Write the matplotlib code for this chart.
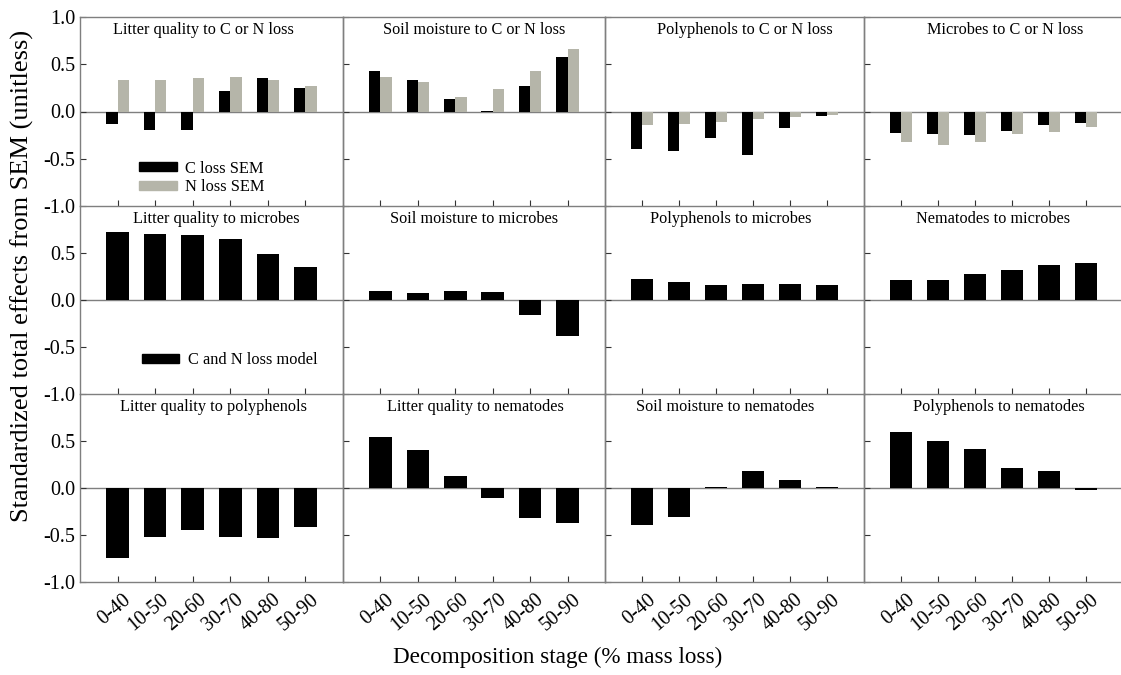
import matplotlib.pyplot as plt
from matplotlib.patches import Patch
from matplotlib.transforms import ScaledTranslation
import numpy as np

plt.rcParams['font.family'] = ['Liberation Serif', 'DejaVu Serif']

stages = ['0-40', '10-50', '20-60', '30-70', '40-80', '50-90']

## top row: C loss SEM vs N loss SEM
lq_c = [-0.13, -0.20, -0.20, 0.22, 0.35, 0.25]
lq_n = [0.33, 0.33, 0.35, 0.37, 0.33, 0.27]
sm_c = [0.43, 0.33, 0.13, 0.01, 0.27, 0.58]
sm_n = [0.36, 0.31, 0.15, 0.24, 0.43, 0.66]
pp_c = [-0.40, -0.42, -0.28, -0.46, -0.17, -0.05]
pp_n = [-0.14, -0.13, -0.11, -0.08, -0.06, -0.04]
mic_c = [-0.23, -0.24, -0.25, -0.21, -0.14, -0.12]
mic_n = [-0.32, -0.35, -0.32, -0.24, -0.22, -0.16]

## C and N loss model
lq_mic = [0.72, 0.70, 0.69, 0.65, 0.49, 0.35]
sm_mic = [0.10, 0.07, 0.10, 0.09, -0.155, -0.38]
pp_mic = [0.22, 0.19, 0.16, 0.17, 0.17, 0.16]
nem_mic = [0.21, 0.21, 0.28, 0.32, 0.37, 0.39]
lq_pp = [-0.74, -0.52, -0.45, -0.52, -0.53, -0.42]
lq_nem = [0.54, 0.40, 0.13, -0.11, -0.32, -0.37]
sm_nem = [-0.39, -0.31, 0.01, 0.18, 0.08, 0.01]
pp_nem = [0.60, 0.50, 0.42, 0.21, 0.18, -0.02]

top_titles = ['Litter quality to C or N loss', 'Soil moisture to C or N loss',
              'Polyphenols to C or N loss', 'Microbes to C or N loss']
top_c = [lq_c, sm_c, pp_c, mic_c]
top_n = [lq_n, sm_n, pp_n, mic_n]

model_titles = [['Litter quality to microbes', 'Soil moisture to microbes',
                 'Polyphenols to microbes', 'Nematodes to microbes'],
                ['Litter quality to polyphenols', 'Litter quality to nematodes',
                 'Soil moisture to nematodes', 'Polyphenols to nematodes']]
model_vals = [[lq_mic, sm_mic, pp_mic, nem_mic],
              [lq_pp, lq_nem, sm_nem, pp_nem]]

# where each panel title sits (axes fraction), as in the original figure
title_x = [[0.468, 0.502, 0.539, 0.544],
           [0.517, 0.500, 0.486, 0.498],
           [0.506, 0.504, 0.465, 0.519]]

black = '#000000'
grey = '#b5b5a9'
line_c = '#7f7f7f'

W, H = 1121, 675
fig = plt.figure(figsize=(W / 100, H / 100), dpi=100)

col_left = [80, 343, 605, 864]
col_right = [343, 605, 864, 1123]
row_top = [17, 206, 394]
row_bot = [206, 394, 582]

x = np.arange(len(stages))


def make_ax(r, c):
    l, rr = col_left[c], col_right[c]
    t, b = row_top[r], row_bot[r]
    ax = fig.add_axes([l / W, 1 - b / H, (rr - l) / W, (b - t) / H])
    ax.patch.set_alpha(0)
    ax.set_xlim(-1, 6)
    ax.set_ylim(-1, 1)
    ax.axhline(0, color=line_c, lw=1, zorder=1)
    for s in ax.spines.values():
        s.set_color(line_c)
        s.set_linewidth(1)
    if c == 3:
        ax.spines['right'].set_visible(False)
    if r > 0:
        ax.spines['top'].set_visible(False)
    ax.set_xticks(x)
    ax.tick_params(axis='both', direction='in', length=4, color='#333333',
                   labelsize=14.5, top=False, right=False)
    if r == 0:
        ax.set_yticks([-1, -0.5, 0, 0.5, 1])
    else:
        ax.set_yticks([-1, -0.5, 0, 0.5])
    if c == 0:
        ax.set_yticklabels(['%.1f' % v for v in ax.get_yticks()])
    else:
        ax.set_yticklabels([])
    if r == 2:
        ax.set_xticklabels(stages, rotation=40, ha='right', rotation_mode='anchor', fontsize=14.5)
        ax.tick_params(axis='x', pad=6)
        off = ScaledTranslation(5 / 100, 0, fig.dpi_scale_trans)
        for lab in ax.get_xticklabels():
            lab.set_transform(lab.get_transform() + off)
    else:
        ax.set_xticklabels([])
    ax.text(title_x[r][c], 0.93, (top_titles + model_titles[0] + model_titles[1])[r * 4 + c],
            transform=ax.transAxes, ha='center', va='center', fontsize=11.7)
    return ax


for c in range(4):
    ax = make_ax(0, c)
    ax.bar(x - 0.15, top_c[c], width=0.3, color=black, zorder=2)
    ax.bar(x + 0.15, top_n[c], width=0.3, color=grey, zorder=2)
    if c == 0:
        ax.legend(handles=[Patch(color=black, label='C loss SEM'), Patch(color=grey, label='N loss SEM')],
                  loc='upper left', bbox_to_anchor=(0.225, 0.24), frameon=False, fontsize=11.8,
                  handlelength=2.3, handleheight=0.45, handletextpad=0.5, labelspacing=0.15,
                  borderpad=0, borderaxespad=0)

for r in range(2):
    for c in range(4):
        ax = make_ax(r + 1, c)
        ax.bar(x, model_vals[r][c], width=0.6, color=black, zorder=2)
        if r == 0 and c == 0:
            ax.legend(handles=[Patch(color=black, label='C and N loss model')],
                      loc='center left', bbox_to_anchor=(0.235, 0.18), frameon=False, fontsize=11.8,
                      handlelength=2.3, handleheight=0.45, handletextpad=0.5,
                      borderpad=0, borderaxespad=0)

fig.text(22 / W, 1 - 276 / H, 'Standardized total effects from SEM (unitless)', rotation=90,
         ha='center', va='center', fontsize=19)
fig.text(558 / W, 1 - 657 / H, 'Decomposition stage (% mass loss)', ha='center', va='center', fontsize=16.7)

fig.savefig('out.png', dpi=100)
